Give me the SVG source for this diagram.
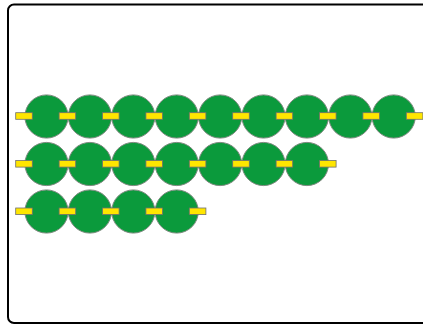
<svg xmlns="http://www.w3.org/2000/svg" width="423" height="325" viewBox="0 0 423 325">
<style>
.frame{fill:#fff;stroke:#000;stroke-width:2}
.c{fill:#0b9a3c;stroke:#7f8a80;stroke-width:1}
.r{fill:#ffe600;stroke:#6f6f6f;stroke-width:0.8}
</style>
<defs>
<circle id="cir" class="c" cx="0" cy="0" r="21.6"/>
<rect id="tab" class="r" x="-8.3" y="-3.3" width="16.6" height="6.6"/>
</defs>
<rect class="frame" x="8" y="4.5" width="430" height="318.5" rx="6"/>
<g id="row1">
<use href="#cir" x="46.5" y="116.5"/><use href="#cir" x="89.9" y="116.5"/><use href="#cir" x="133.3" y="116.5"/><use href="#cir" x="176.7" y="116.5"/><use href="#cir" x="220.1" y="116.5"/><use href="#cir" x="263.5" y="116.5"/><use href="#cir" x="306.9" y="116.5"/><use href="#cir" x="350.3" y="116.5"/><use href="#cir" x="393.7" y="116.5"/>
<use href="#tab" x="24" y="116"/><use href="#tab" x="67.4" y="116"/><use href="#tab" x="110.8" y="116"/><use href="#tab" x="154.2" y="116"/><use href="#tab" x="197.6" y="116"/><use href="#tab" x="241" y="116"/><use href="#tab" x="284.4" y="116"/><use href="#tab" x="327.8" y="116"/><use href="#tab" x="371.2" y="116"/><use href="#tab" x="414.6" y="116"/>
</g>
<g id="row2">
<use href="#cir" x="46.5" y="164"/><use href="#cir" x="89.9" y="164"/><use href="#cir" x="133.3" y="164"/><use href="#cir" x="176.7" y="164"/><use href="#cir" x="220.1" y="164"/><use href="#cir" x="263.5" y="164"/><use href="#cir" x="306.9" y="164"/>
<use href="#tab" x="24" y="163.8"/><use href="#tab" x="67.4" y="163.8"/><use href="#tab" x="110.8" y="163.8"/><use href="#tab" x="154.2" y="163.8"/><use href="#tab" x="197.6" y="163.8"/><use href="#tab" x="241" y="163.8"/><use href="#tab" x="284.4" y="163.8"/><use href="#tab" x="327.8" y="163.8"/>
</g>
<g id="row3">
<use href="#cir" x="46.5" y="211.5"/><use href="#cir" x="89.9" y="211.5"/><use href="#cir" x="133.3" y="211.5"/><use href="#cir" x="176.7" y="211.5"/>
<use href="#tab" x="24" y="211.3"/><use href="#tab" x="67.4" y="211.3"/><use href="#tab" x="110.8" y="211.3"/><use href="#tab" x="154.2" y="211.3"/><use href="#tab" x="197.6" y="211.3"/>
</g>
</svg>
